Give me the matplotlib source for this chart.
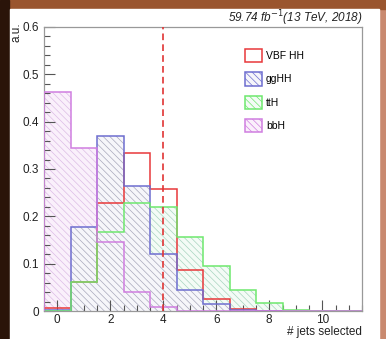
"""
Number of selected jets for the HH -> bbgg signal and single-Higgs backgrounds.
"""

import matplotlib.pyplot as plt
import numpy as np
from matplotlib.patches import Patch, Rectangle

plt.rcParams["font.family"] = ["Liberation Sans", "DejaVu Sans"]
plt.rcParams["hatch.linewidth"] = 0.5

# bin centres: number of jets
n_jets = np.arange(0, 12)
edges = np.arange(-0.5, 12.0, 1.0)

# normalised yields per bin (a.u.)
vbf_hh = [0.007, 0.062, 0.229, 0.333, 0.257, 0.087, 0.025, 0.005, 0.001, 0.0, 0.0, 0.0]
gg_hh = [0.003, 0.177, 0.370, 0.265, 0.121, 0.044, 0.015, 0.003, 0.001, 0.0, 0.0, 0.0]
tt_h = [0.0, 0.062, 0.166, 0.229, 0.219, 0.157, 0.096, 0.044, 0.017, 0.002, 0.001, 0.0]
bb_h = [0.462, 0.345, 0.145, 0.041, 0.008, 0.001, 0.0, 0.0, 0.0, 0.0, 0.0, 0.0]

labels = ["VBF HH", "ggHH", "ttH", "bbH"]
cut_value = 4
lumi_text = r"59.74 fb$^{-1}$(13 TeV, 2018)"

# (line colour, fill colour, hatch colour) per sample
styles = {
    "VBF HH": ("#e8383a", "none", None),
    "ggHH": ("#6e6ed0", "#f6f6fa", "#a8a8bc"),
    "ttH": ("#6ee86e", "#f4fbf6", "#a8d4c0"),
    "bbH": ("#d07ee0", "#faf0fb", "#dcbce6"),
}
HATCH = "\\\\\\\\\\"

W, H = 386, 339
fig = plt.figure(figsize=(W / 100, H / 100), dpi=100)
fig.patch.set_facecolor("#b46f52")

# frame around the canvas
fig.patches.append(Rectangle((0, 0), 1, 1, transform=fig.transFigure,
                             color="#c9896f", zorder=-3))
fig.patches.append(Rectangle((0, 1 - 9 / H), 1, 9 / H, transform=fig.transFigure,
                             color="#9a552e", zorder=-2))
fig.patches.append(Rectangle((0, 0), 9 / W, 1, transform=fig.transFigure,
                             color="#2a1409", zorder=-2))
fig.patches.append(Rectangle((10 / W, 0), 369 / W, 1 - 9 / H,
                             transform=fig.transFigure, color="white", zorder=-1))

ax = fig.add_axes([44 / W, 1 - 311 / H, 318 / W, 284 / H])
ax.set_facecolor("white")

series = {"VBF HH": vbf_hh, "ggHH": gg_hh, "ttH": tt_h, "bbH": bb_h}
# hatched fills first, then outlines with bbH on top
for name in ["bbH", "ttH", "ggHH"]:
    line_c, fill_c, hatch_c = styles[name]
    ax.stairs(series[name], edges, baseline=0, fill=True, facecolor=fill_c,
              edgecolor=hatch_c, hatch=HATCH, linewidth=0, zorder=1)
for name in labels:
    ax.stairs(series[name], edges, baseline=0, color=styles[name][0],
              linewidth=1.1, zorder=3)

ax.axvline(cut_value, color="#e03434", linestyle=(0, (4, 2.5)), linewidth=1.2,
           zorder=4)

ax.set_xlim(-0.5, 11.5)
ax.set_ylim(0, 0.6)
ax.set_xticks(np.arange(0, 11, 2))
ax.set_xticks(np.arange(-0.5, 11.6, 0.5), minor=True)
ax.set_yticks(np.arange(0, 0.61, 0.1))
ax.set_yticks(np.arange(0, 0.61, 0.02), minor=True)
ax.yaxis.set_major_formatter(lambda v, pos: "0" if v == 0 else f"{v:.1f}")
ax.tick_params(which="both", direction="in", colors="#555555", labelcolor="#222222",
               labelsize=8.5, width=0.8)
ax.tick_params(which="major", length=8)
ax.tick_params(which="minor", length=4)
ax.tick_params(axis="x", pad=2)
for sp in ax.spines.values():
    sp.set_color("#999999")
    sp.set_linewidth(0.9)

handles = []
for name in labels:
    line_c, fill_c, hatch_c = styles[name]
    if hatch_c is None:
        handles.append(Patch(facecolor="white", edgecolor=line_c, linewidth=1.1))
    else:
        handles.append(Patch(facecolor=fill_c, edgecolor=line_c, linewidth=1.1,
                             hatch=HATCH))
leg = ax.legend(handles, labels, loc="upper left",
                bbox_to_anchor=(245 / W, 1 - 49 / H), bbox_transform=fig.transFigure,
                frameon=False, fontsize=7.5, handlelength=1.6, handleheight=1.6,
                labelspacing=0.95, handletextpad=0.4, borderpad=0, borderaxespad=0)

fig.text(362 / W, 1 - 18 / H, lumi_text, ha="right", va="center",
         style="italic", fontsize=8.5, color="#222222")
fig.text(17 / W, 1 - 22 / H, "a.u.", rotation=90, ha="center", va="top",
         fontsize=8.5, color="#222222")
fig.text(362 / W, 1 - 332 / H, "# jets selected", ha="right", va="center",
         fontsize=8.5, color="#222222")

fig.savefig("out.png", dpi=100, facecolor=fig.get_facecolor())
